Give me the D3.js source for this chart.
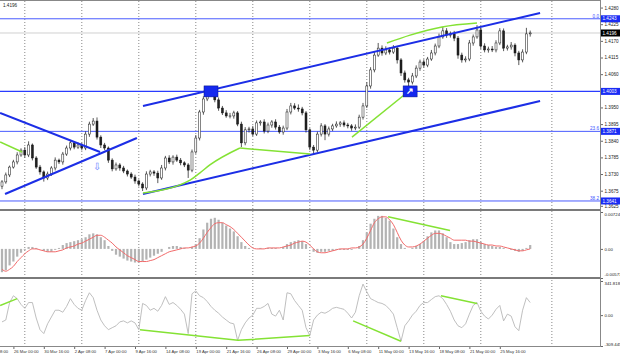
<!DOCTYPE html>
<html><head><meta charset="utf-8">
<script src="https://cdn.jsdelivr.net/npm/d3@7"></script>
<style>body{margin:0;background:#fff}svg{display:block}text{font-family:"Liberation Sans",Arial,sans-serif}</style>
</head><body><svg id="c" width="620" height="357"></svg>
<script>
// ---------- DATA ----------
const firstOpen = 1.3690;
const closes = [1.3704,1.3727,1.3753,1.3770,1.3793,1.3809,1.3793,1.3826,1.3783,1.3753,
1.3737,1.3717,1.3730,1.3750,1.3776,1.3770,1.3796,1.3816,1.3833,1.3819,
1.3826,1.3816,1.3862,1.3895,1.3905,1.3852,1.3826,1.3816,1.3776,1.3747,
1.3760,1.3750,1.3740,1.3730,1.3720,1.3707,1.3697,1.3684,1.3730,1.3737,
1.3733,1.3717,1.3750,1.3783,1.3770,1.3786,1.3776,1.3767,1.3760,1.3743,
1.3803,1.3849,1.3935,1.3978,1.4001,1.4004,1.3975,1.3948,1.3932,1.3922,
1.3922,1.3932,1.3895,1.3833,1.3876,1.3879,1.3862,1.3899,1.3902,1.3872,
1.3892,1.3902,1.3885,1.3869,1.3882,1.3935,1.3955,1.3948,1.3945,1.3932,
1.3876,1.3819,1.3809,1.3862,1.3889,1.3862,1.3879,1.3889,1.3895,1.3899,
1.3892,1.3889,1.3882,1.3885,1.3918,1.3955,1.4021,1.4074,1.4123,1.4146,
1.4130,1.4140,1.4133,1.4146,1.4107,1.4064,1.4041,1.4034,1.4054,1.4080,
1.4100,1.4090,1.4110,1.4130,1.4153,1.4183,1.4203,1.4189,1.4193,1.4179,
1.4123,1.4107,1.4110,1.4163,1.4183,1.4206,1.4153,1.4140,1.4143,1.4140,
1.4163,1.4203,1.4146,1.4150,1.4156,1.4130,1.4107,1.4133,1.4193,1.4196];
// upper / lower wick lengths in pips
const wickUp = [6,8,5,7,9,6,10,12,5,6, 7,5,8,6,9,5,7,8,10,6, 8,7,9,8,10,12,6,7,5,6,
8,6,7,5,6,8,5,6,9,7, 6,8,10,7,9,6,8,7,5,6, 8,10,7,9,8,14,6,8,7,9, 10,7,6,8,9,7,10,8,6,9,
8,6,9,7,8,10,10,9,12,7, 6,5,7,8,9,6,8,7,9,6, 8,7,6,9,8,10,12,9,11,17, 9,12,8,10,7,6,8,7,10,9,
8,9,7,10,8,11,13,9,8,10, 7,8,9,10,8,16,7,9,8,10, 9,9,8,7,10,6,7,9,20,8];
const wickDn = [10,6,7,5,8,6,9,7,8,6, 9,12,7,6,8,7,9,6,8,7, 6,8,7,9,6,8,10,7,9,8,
6,9,7,8,6,9,8,10,7,8, 9,17,6,8,7,9,6,8,7,26, 7,6,8,9,7,6,8,9,7,6, 8,9,7,14,8,9,7,6,9,8,
7,9,8,6,9,7,8,6,9,8, 9,10,16,7,8,20,8,7,6,9, 7,8,9,7,6,8,7,9,8,6, 9,7,8,6,12,10,9,20,8,7,
9,8,7,6,8,7,6,9,8,10, 12,9,8,7,9,6,10,8,9,7, 8,7,10,8,9,11,17,8,7,9];
const macdHist = [-0.00457,-0.00419,-0.00324,-0.00248,-0.00152,-0.00076,-0.00019,0.00038,0.00038,0.00019,
0,-0.00038,-0.00057,-0.00057,-0.00019,0.00019,0.00076,0.00114,0.00133,0.00152,
0.00171,0.00190,0.00229,0.00286,0.00305,0.00286,0.00229,0.00171,0.00057,-0.00038,
-0.00114,-0.00152,-0.00190,-0.00229,-0.00248,-0.00267,-0.00267,-0.00248,-0.00210,-0.00171,
-0.00133,-0.00095,-0.00057,0,0.00038,0.00057,0.00057,0.00038,0.00019,0,
0.00038,0.00095,0.00210,0.00381,0.00514,0.00591,0.00610,0.00572,0.00514,0.00457,
0.00400,0.00343,0.00248,0.00133,0.00057,0.00019,0,0,0.00019,0,
0.00019,0.00019,0.00019,0,0.00038,0.00095,0.00133,0.00152,0.00171,0.00152,
0.00095,0,-0.00057,-0.00076,-0.00057,-0.00057,-0.00038,-0.00038,-0.00019,-0.00019,
-0.00019,-0.00019,-0.00019,0,0.00057,0.00171,0.00324,0.00495,0.00591,0.00648,
0.00648,0.00610,0.00552,0.00400,0.00229,0.00095,0.00019,0,0.00019,0.00057,
0.00095,0.00152,0.00248,0.00324,0.00362,0.00362,0.00305,0.00229,0.00133,0.00095,
0.00095,0.00114,0.00133,0.00171,0.00190,0.00190,0.00133,0.00095,0.00076,0.00057,
0.00038,0.00038,0.00019,0,-0.00019,-0.00038,-0.00057,-0.00038,0.00019,0.00076];
const macdSignal = [-0.00400,-0.00438,-0.00400,-0.00343,-0.00248,-0.00171,-0.00095,-0.00038,0,0,
-0.00019,-0.00038,-0.00057,-0.00057,-0.00057,-0.00038,-0.00019,0.00019,0.00038,0.00057,
0.00095,0.00114,0.00152,0.00190,0.00229,0.00267,0.00267,0.00229,0.00171,0.00114,
0.00038,-0.00019,-0.00076,-0.00133,-0.00171,-0.00210,-0.00248,-0.00248,-0.00248,-0.00229,
-0.00210,-0.00171,-0.00133,-0.00095,-0.00057,-0.00038,-0.00019,0,0.00019,0.00019,
0.00038,0.00057,0.00114,0.00210,0.00324,0.00419,0.00495,0.00514,0.00514,0.00476,
0.00438,0.00381,0.00305,0.00229,0.00152,0.00076,0.00019,0,0,0,
0.00019,0.00019,0.00019,0.00019,0.00038,0.00057,0.00076,0.00114,0.00133,0.00152,
0.00133,0.00076,0,-0.00057,-0.00076,-0.00076,-0.00057,-0.00038,-0.00019,0,
0,0,0.00019,0.00019,0.00038,0.00095,0.00210,0.00362,0.00514,0.00591,
0.00629,0.00629,0.00572,0.00476,0.00324,0.00171,0.00076,0.00038,0.00038,0.00057,
0.00095,0.00152,0.00210,0.00267,0.00305,0.00305,0.00286,0.00248,0.00210,0.00171,
0.00171,0.00171,0.00171,0.00152,0.00152,0.00133,0.00114,0.00095,0.00076,0.00076,
0.00057,0.00057,0.00038,0.00019,0,-0.00019,-0.00038,-0.00038,-0.00019,0];
const cci = [-68,-49,126,194,165,107,68,126,126,-29,
-146,-185,-87,-19,49,49,29,87,165,107,
68,49,146,224,175,49,-49,-107,-146,-126,
-107,-68,-58,-78,-58,-78,-146,117,97,49,
68,39,97,185,107,126,97,58,10,-185,
214,243,194,175,136,87,49,19,-19,-49,
-78,-87,-253,-146,-78,-29,0,68,68,87,
117,10,-10,49,-49,224,214,146,97,49,
-126,-204,-49,0,29,19,39,68,78,68,
58,19,-29,29,194,311,233,165,146,126,
117,97,58,10,-126,-262,-107,-58,0,39,
97,126,126,156,185,194,165,107,39,-49,
-107,-126,-87,10,97,126,39,-10,-39,0,
58,97,-58,10,-10,-117,-156,49,175,126];

const timeLabels = ["23 Mar 08:00","26 Mar 00:00","30 Mar 16:00","2 Apr 08:00","7 Apr 00:00","9 Apr 16:00","14 Apr 08:00","19 Apr 00:00","21 Apr 16:00","26 Apr 08:00","29 Apr 00:00","3 May 16:00","6 May 08:00","11 May 00:00","13 May 16:00","18 May 08:00","21 May 00:00","25 May 16:00"];
const timeBars = [-5,3,11,19,27,35,43,51,59,67,75,83,91,99,107,115,123,131];
const gridBars = [6,21,36,51,66,81,96,111,126,144.7];
const priceTicks = [1.4280,1.4225,1.4170,1.4115,1.4060,1.3950,1.3895,1.3840,1.3785,1.3730,1.3675,1.3625];
const macdTicks = [0.00724,0,-0.00571];
const macdTickLabels = ["0.00724","0.00","-0.00571"];
const cciTicks = [341.8183,0,-309.445];
const cciTickLabels = ["341.8183","0.00","-309.445"];
const currentPrice = 1.4196;
const fibLevels = [{p:1.4243,name:"0.0",lbl:"1.4243"},{p:1.3871,name:"23.6",lbl:"1.3871"},{p:1.3641,name:"38.2",lbl:"1.3641"}];
const hLevel = {p:1.4003,lbl:"1.4003"};
// trend lines [barIndex, price]
const channelUpper = [[37.1,1.3955],[141.6,1.4262]];
const channelLower = [[37.1,1.3664],[141.6,1.3971]];
const leftDown = [[-0.5,1.3932],[25.8,1.3803]];
const leftUp = [[0.8,1.3664],[35.5,1.3849]];
const greenMain = [
  [[-0.5,1.3836],[5.3,1.3803]],
  [[37.1,1.3667],[49.5,1.3710],[52.1,1.3734],[54.7,1.3760],[62.6,1.3816]],
  [[62.6,1.3816],[81.1,1.3796]],
  [[92.1,1.3852],[106.8,1.4001]],
  [[101.3,1.4163],[107.4,1.4189],[115.8,1.4216],[125,1.4229]]
];
const greenMacd = [[[101.6,0.00629],[117.9,0.00362]]];
const greenCci = [
  [[-0.5,97],[4,165]],
  [[36.3,-146],[62.1,-253],[81,-204]],
  [[92.4,-58],[105,-262]],
  [[115.5,194],[125,117]]
];
const markers = [{i:55,p:1.4003,arrow:""},{i:107.4,p:1.4003,arrow:"↗"}];
const downArrow = {i:25,p:1.3758};

// ---------- SCALES ----------
const N = closes.length;
const svg = d3.select('#c');
const R = 600;
const x = d3.scaleLinear().domain([0, N-1]).range([2, 530.2]);
const yP = d3.scaleLinear().domain([1.36112, 1.4305]).range([210, 0]);
const yM = d3.scaleLinear().domain([-0.00571, 0.00724]).range([278, 212]);
const yC = d3.scaleLinear().domain([-309.445, 341.8183]).range([346, 281]);

const defs = svg.append('defs');
[['cm',0,0,209],['cd',0,211,66],['cc',0,279,67]].forEach(([id,x0,y0,h])=>{
  defs.append('clipPath').attr('id',id).append('rect').attr('x',x0).attr('y',y0).attr('width',R).attr('height',h);
});

// grid
svg.append('g').selectAll('line').data(gridBars).join('line')
  .attr('x1',d=>x(d)).attr('x2',d=>x(d)).attr('y1',1).attr('y2',346)
  .attr('stroke','#555').attr('stroke-width',0.7).attr('stroke-dasharray','1,2');

const gm = svg.append('g').attr('clip-path','url(#cm)');
gm.append('line').attr('x1',0).attr('x2',R).attr('y1',yP(currentPrice)).attr('y2',yP(currentPrice)).attr('stroke','#c4c4c4').attr('stroke-width',0.8);
fibLevels.forEach(l=>{
  gm.append('line').attr('x1',0).attr('x2',R).attr('y1',yP(l.p)).attr('y2',yP(l.p)).attr('stroke','#4a5cff').attr('stroke-width',1);
  svg.append('text').attr('x',599).attr('y',yP(l.p)-1).attr('text-anchor','end').attr('font-size',4.6).attr('fill','#3a50ff').text(l.name);
});
gm.append('line').attr('x1',0).attr('x2',R).attr('y1',yP(hLevel.p)).attr('y2',yP(hLevel.p)).attr('stroke','#2a3cff').attr('stroke-width',1.3);

// candles
const cg = gm.append('g');
closes.forEach((c,i)=>{
  const o = i ? closes[i-1] : firstOpen;
  const hi = Math.max(o,c) + wickUp[i]*1e-4, lo = Math.min(o,c) - wickDn[i]*1e-4;
  cg.append('line').attr('x1',x(i)).attr('x2',x(i)).attr('y1',yP(hi)).attr('y2',yP(lo)).attr('stroke','#111').attr('stroke-width',0.7);
  const top = yP(Math.max(o,c)), bot = yP(Math.min(o,c));
  cg.append('rect').attr('x',x(i)-1).attr('width',2).attr('y',top).attr('height',Math.max(0.6,bot-top))
    .attr('fill', c>=o ? '#fff' : '#222').attr('stroke','#111').attr('stroke-width',0.5);
});

[channelUpper, channelLower, leftDown, leftUp].forEach(seg=>{
  gm.append('path').attr('d', d3.line().x(d=>x(d[0])).y(d=>yP(d[1]))(seg)).attr('fill','none').attr('stroke','#1c2ee6').attr('stroke-width',2);
});
greenMain.forEach(seg=>{
  gm.append('path').attr('d', d3.line().x(d=>x(d[0])).y(d=>yP(d[1])).curve(d3.curveMonotoneX)(seg)).attr('fill','none').attr('stroke','#84e234').attr('stroke-width',1.5);
});
markers.forEach(m=>{
  gm.append('rect').attr('x',x(m.i)-7).attr('y',yP(m.p)-5.5).attr('width',14).attr('height',11).attr('fill','#1428ee').attr('stroke','#001080').attr('stroke-width',0.5);
  if (m.arrow) gm.append('text').attr('x',x(m.i)).attr('y',yP(m.p)+3).attr('text-anchor','middle').attr('font-size',9).attr('fill','#fff').attr('font-weight','bold').text(m.arrow);
});
gm.append('text').attr('x',x(downArrow.i)).attr('y',yP(downArrow.p)+4).attr('text-anchor','middle').attr('font-size',10)
  .attr('font-family','DejaVu Sans').attr('fill','#6d80ff').text('⇩');

// MACD
const gd = svg.append('g').attr('clip-path','url(#cd)');
gd.selectAll('rect').data(macdHist).join('rect')
  .attr('x',(d,i)=>x(i)-1.1).attr('width',2.2)
  .attr('y',d=>Math.min(yM(0),yM(d))).attr('height',d=>Math.abs(yM(d)-yM(0)))
  .attr('fill','#b3b3b3');
gd.append('path').attr('d', d3.line().x((d,i)=>x(i)).y(d=>yM(d)).curve(d3.curveMonotoneX)(macdSignal))
  .attr('fill','none').attr('stroke','#f26a6a').attr('stroke-width',1);
greenMacd.forEach(seg=>{
  gd.append('path').attr('d', d3.line().x(d=>x(d[0])).y(d=>yM(d[1]))(seg)).attr('fill','none').attr('stroke','#84e234').attr('stroke-width',1.5);
});

// CCI
const gc = svg.append('g').attr('clip-path','url(#cc)');
gc.append('path').attr('d', d3.line().x((d,i)=>x(i)).y(d=>yC(d))(cci))
  .attr('fill','none').attr('stroke','#b8b8b8').attr('stroke-width',0.9);
greenCci.forEach(seg=>{
  gc.append('path').attr('d', d3.line().x(d=>x(d[0])).y(d=>yC(d[1]))(seg)).attr('fill','none').attr('stroke','#84e234').attr('stroke-width',1.5);
});

// frames
svg.append('rect').attr('x',0).attr('y',0).attr('width',R).attr('height',1).attr('fill','#888');
svg.append('rect').attr('x',0).attr('y',209).attr('width',R).attr('height',2).attr('fill','#7a7a7a');
svg.append('rect').attr('x',0).attr('y',277).attr('width',R).attr('height',2).attr('fill','#7a7a7a');
svg.append('rect').attr('x',0).attr('y',346).attr('width',R+1).attr('height',1).attr('fill','#888');
svg.append('rect').attr('x',R).attr('y',0).attr('width',1).attr('height',347).attr('fill','#888');

// axes
function styleAxis(g, fs){
  g.select('.domain').remove();
  g.selectAll('line').attr('stroke','#666');
  g.selectAll('text').attr('font-size',fs).attr('fill','#222').attr('font-family','Liberation Sans, Arial, sans-serif');
}
svg.append('g').attr('transform',`translate(${R+1},0)`)
  .call(d3.axisRight(yP).tickValues(priceTicks).tickFormat(d3.format('.4f')).tickSize(2).tickPadding(1.5)).call(styleAxis,4.6);
const ma = svg.append('g').attr('transform',`translate(${R+1},0)`)
  .call(d3.axisRight(yM).tickValues(macdTicks).tickFormat((d,i)=>macdTickLabels[i]).tickSize(2).tickPadding(1.5)).call(styleAxis,4.3);
ma.selectAll('.tick text').attr('dy',(d,i)=> i===0 ? '0.9em' : (i===2 ? '-0.6em' : '0.32em'));
const ca = svg.append('g').attr('transform',`translate(${R+1},0)`)
  .call(d3.axisRight(yC).tickValues(cciTicks).tickFormat((d,i)=>cciTickLabels[i]).tickSize(2).tickPadding(1.5)).call(styleAxis,4.3);
ca.selectAll('.tick text').attr('dy',(d,i)=> i===0 ? '0.7em' : (i===2 ? '-0.1em' : '0.32em'));
const xa = svg.append('g').attr('transform','translate(0,347)')
  .call(d3.axisBottom(x).tickValues(timeBars).tickFormat((d,i)=>timeLabels[i]).tickSize(2).tickPadding(1.5)).call(styleAxis,4.2);
xa.selectAll('text').attr('text-anchor','start').attr('fill','#333');

// axis boxes
function box(p, txt, fill){
  svg.append('rect').attr('x',R+1).attr('y',yP(p)-3.5).attr('width',19).attr('height',7).attr('fill',fill);
  svg.append('text').attr('x',R+2.5).attr('y',yP(p)+1.7).attr('font-size',4.6).attr('fill','#fff').text(txt);
}
fibLevels.forEach(l=>box(l.p,l.lbl,'#1a2cf5'));
box(hLevel.p,hLevel.lbl,'#1a2cf5');
box(currentPrice,'1.4196','#000');

svg.append('text').attr('x',3).attr('y',7).attr('font-size',4.6).attr('fill','#222').text('1.4196');
</script></body></html>
